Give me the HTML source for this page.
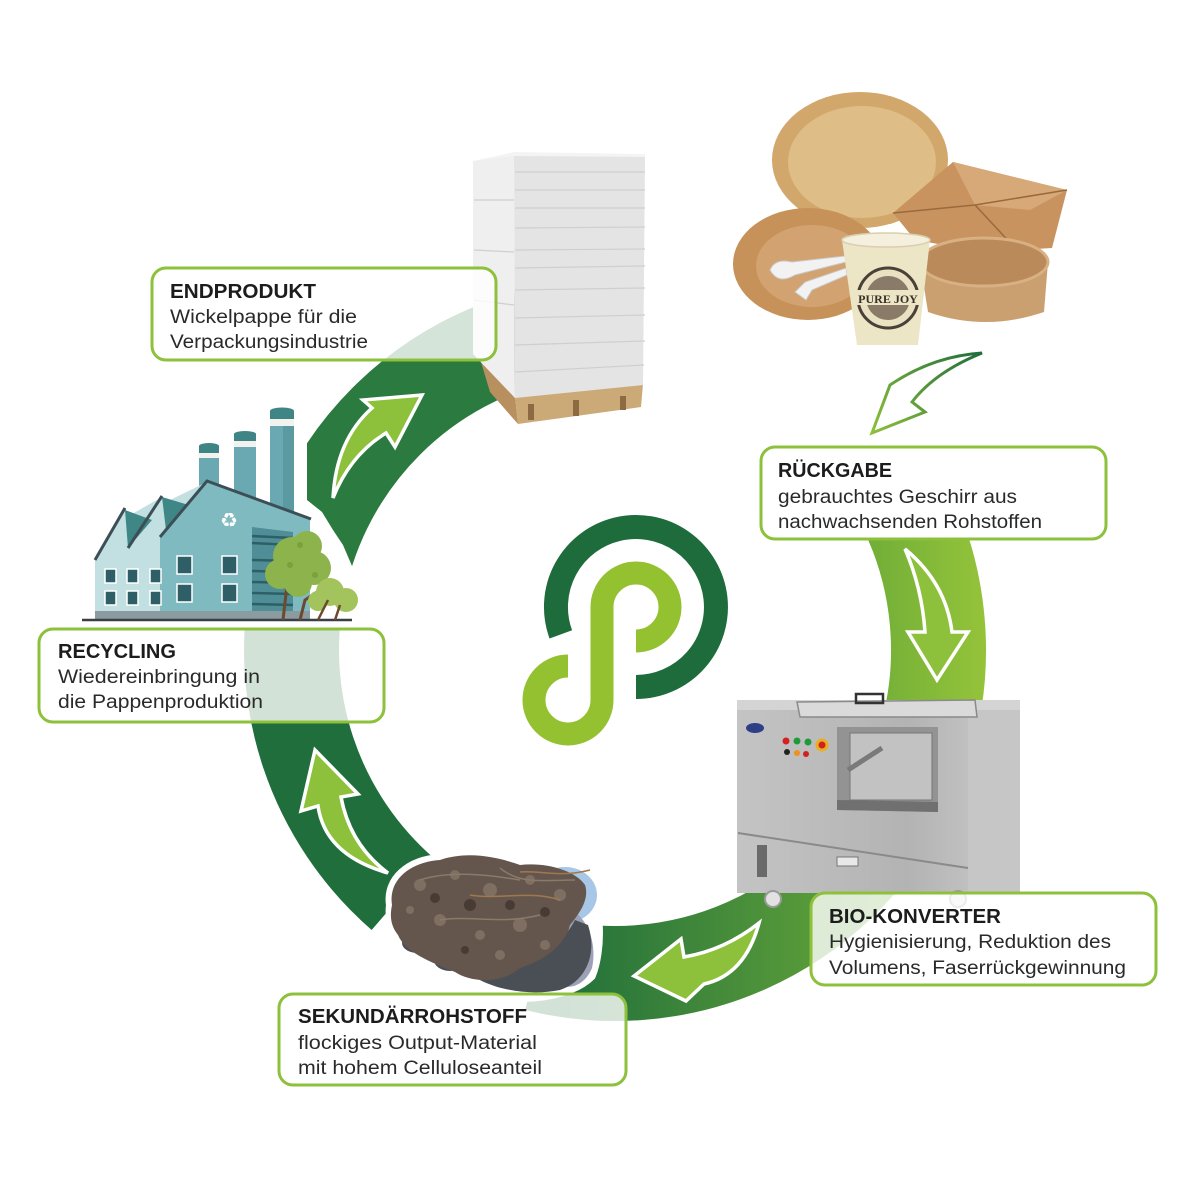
<!DOCTYPE html>
<html><head><meta charset="utf-8">
<style>
html,body{margin:0;padding:0;background:#fff;}
svg{display:block;}
text{font-family:"Liberation Sans",Arial,sans-serif;}
</style></head><body>
<svg width="1200" height="1200" viewBox="0 0 1200 1200" xmlns="http://www.w3.org/2000/svg">
<defs>
<linearGradient id="gR" x1="862" y1="0" x2="990" y2="0" gradientUnits="userSpaceOnUse"><stop offset="0" stop-color="#6fad37"/><stop offset="1" stop-color="#96c43a"/></linearGradient>
<linearGradient id="gB" x1="560" y1="0" x2="900" y2="0" gradientUnits="userSpaceOnUse"><stop offset="0" stop-color="#22703b"/><stop offset="1" stop-color="#6aa83a"/></linearGradient>
<linearGradient id="gA" x1="982" y1="353" x2="872" y2="433" gradientUnits="userSpaceOnUse"><stop offset="0" stop-color="#1f6e3b"/><stop offset="1" stop-color="#8dc03b"/></linearGradient>
<linearGradient id="gM" x1="737" y1="0" x2="1020" y2="0" gradientUnits="userSpaceOnUse"><stop offset="0" stop-color="#c4c4c4"/><stop offset="0.6" stop-color="#b3b3b3"/><stop offset="1" stop-color="#cbcbcb"/></linearGradient>
<clipPath id="cR"><rect x="0" y="540" width="1200" height="660"/></clipPath>
<clipPath id="cL"><rect x="0" y="629" width="1200" height="571"/></clipPath>
<clipPath id="cT"><polygon points="307,200 700,200 700,700 420,700 352,566 343,545 333,530 322,512 307,500"/></clipPath>
</defs>

<!-- RING SEGMENTS -->
<path d="M895.2,488.3 A323.5,323.5 0 0 1 919.0,760.6" fill="none" stroke="url(#gR)" stroke-width="95" clip-path="url(#cR)"/>
<path d="M900.6,801.9 A323.5,323.5 0 0 1 536.7,963.9" fill="none" stroke="url(#gB)" stroke-width="95"/>
<path d="M402.8,894.1 A323.5,323.5 0 0 1 298.6,582.7" fill="none" stroke="#1f6e3b" stroke-width="95" clip-path="url(#cL)"/>
<path d="M298.6,582.7 A323.5,323.5 0 0 1 547.7,333.6" fill="none" stroke="#2b7a3f" stroke-width="95" clip-path="url(#cT)"/>

<!-- ARROWS INSIDE RING -->
<g fill="#8dc03b" stroke="#ffffff" stroke-width="3.5" stroke-linejoin="miter">
<path d="M905,549 Q946,583 952,632 L968,632 L937,680 L908,632 L925,632 Q922,588 905,549 Z"/>
<path d="M634,976 L681,939 L684,957 Q725,950 759,923 Q745,975 704,984 L686,1001 Z"/>
<path d="M315,750 L358,794 L341,797 Q350,845 388,873 Q325,855 318,806 L301,811 Z"/>
<path d="M333,498 Q336,440 372,408 L363,400 L422,395 L395,447 L386,433 Q350,455 333,498 Z"/>
</g>

<!-- PALLET -->
<g>
<polygon points="478,352 515,396 518,424 490,392" fill="#b89060"/>
<polygon points="515,396 643,384 641,407 518,424" fill="#ccaa78"/>
<rect x="528" y="404" width="6" height="16" fill="#8d6a42"/>
<rect x="573" y="400" width="6" height="16" fill="#8d6a42"/>
<rect x="620" y="396" width="6" height="14" fill="#8d6a42"/>
<polygon points="473,161 514,155 515,398 473,354" fill="#efefef"/>
<polygon points="514,155 645,156 643,385 515,398" fill="#e4e4e4"/>
<polygon points="473,161 514,152 645,154 645,157 514,156" fill="#f4f4f4"/>
<g stroke="#cfcfcf" stroke-width="1.2">
<line x1="515" y1="172" x2="645" y2="172"/><line x1="515" y1="190" x2="645" y2="190"/>
<line x1="515" y1="208" x2="645" y2="208"/><line x1="515" y1="228" x2="645" y2="227"/>
<line x1="515" y1="250" x2="645" y2="249"/><line x1="515" y1="268" x2="645" y2="266"/>
<line x1="515" y1="290" x2="645" y2="288"/><line x1="515" y1="318" x2="645" y2="315"/>
<line x1="515" y1="345" x2="645" y2="341"/><line x1="515" y1="372" x2="644" y2="365"/>
<line x1="474" y1="200" x2="514" y2="200"/><line x1="474" y1="250" x2="514" y2="252"/>
<line x1="474" y1="300" x2="514" y2="305"/>
</g>
</g>

<!-- PRODUCTS -->
<g>
<ellipse cx="860" cy="160" rx="88" ry="68" fill="#d2a76b"/>
<ellipse cx="862" cy="162" rx="74" ry="56" fill="#dfbd87"/>
<polygon points="893,213 953,162 1067,190 1052,248 985,252 915,240" fill="#c8935f"/>
<polygon points="953,162 1067,190 1030,210 975,205" fill="#d7a878"/>
<polyline points="893,213 975,205 1067,190" fill="none" stroke="#9b6a3c" stroke-width="1.5"/>
<line x1="975" y1="205" x2="1015" y2="248" stroke="#9b6a3c" stroke-width="1.5"/>
<ellipse cx="808" cy="264" rx="75" ry="56" fill="#c6925a"/>
<ellipse cx="812" cy="266" rx="56" ry="41" fill="#d2a270"/>
<path d="M920,262 L928,312 Q985,332 1044,312 L1048,262 Z" fill="#caa071"/>
<ellipse cx="984" cy="262" rx="64" ry="24" fill="#bb8a5a" stroke="#d8b083" stroke-width="3"/>
<path d="M770,270 Q775,258 792,262 L845,256 L846,262 L795,275 Q778,285 770,270 Z" fill="#f2f2f2" stroke="#c9c9c9" stroke-width="1"/>
<path d="M795,292 L805,282 L846,268 L847,275 L812,290 L806,300 Z" fill="#f2f2f2" stroke="#c9c9c9" stroke-width="1"/>
<polygon points="842,240 930,240 918,345 857,345" fill="#ece5c6"/>
<ellipse cx="886" cy="240" rx="44" ry="7" fill="#f5f0de" stroke="#d8cfae" stroke-width="1.5"/>
<circle cx="888" cy="298" r="30" fill="#e9e1c2" stroke="#4a4038" stroke-width="3"/>
<circle cx="888" cy="298" r="22" fill="#8a7b68"/>
<rect x="856" y="290" width="64" height="15" fill="#ece5c6"/>
<text x="888" y="303" font-size="12" font-weight="bold" fill="#3a3028" text-anchor="middle" style="font-family:'Liberation Serif',serif">PURE JOY</text>
</g>

<!-- FACTORY -->
<g>
<rect x="199" y="452" width="20" height="45" fill="#6aa9b1"/>
<rect x="199" y="446" width="20" height="7" fill="#3f8585"/>
<ellipse cx="209" cy="446" rx="10" ry="3" fill="#3f8585"/>
<rect x="199" y="453" width="20" height="5" fill="#f2f2ee"/>
<rect x="234" y="440" width="22" height="65" fill="#6aa9b1"/>
<rect x="234" y="434" width="22" height="7" fill="#3f8585"/>
<ellipse cx="245" cy="434" rx="11" ry="3" fill="#3f8585"/>
<rect x="234" y="441" width="22" height="6" fill="#f2f2ee"/>
<rect x="270" y="418" width="24" height="100" fill="#6aa9b1"/>
<rect x="270" y="411" width="24" height="8" fill="#3f8585"/>
<ellipse cx="282" cy="411" rx="12" ry="3.5" fill="#3f8585"/>
<rect x="270" y="419" width="24" height="7" fill="#f2f2ee"/>
<rect x="283" y="426" width="11" height="92" fill="#5c9aa2"/>
<polygon points="95,560 125,510 132,514 162,497 170,500 207,482 207,615 95,615" fill="#c2e0e1"/>
<polygon points="125,510 152,520 128,548" fill="#3f8686"/>
<polygon points="162,497 192,506 166,530" fill="#3f8686"/>
<polygon points="207,482 310,518 310,615 160,615 160,537" fill="#7fbac1"/>
<polygon points="252,527 293,532 293,613 252,613" fill="#4f8e96"/>
<g stroke="#2e5f66" stroke-width="2.5">
<line x1="252" y1="536" x2="293" y2="538"/><line x1="252" y1="543" x2="293" y2="545"/>
<line x1="252" y1="560" x2="293" y2="561"/><line x1="252" y1="571" x2="293" y2="572"/>
<line x1="252" y1="582" x2="293" y2="583"/><line x1="252" y1="593" x2="293" y2="594"/>
<line x1="252" y1="604" x2="293" y2="605"/>
</g>
<g fill="none" stroke="#3c4f57" stroke-width="3">
<polyline points="160,537 207,481 311,519"/>
<line x1="95" y1="560" x2="125" y2="508"/>
<line x1="128" y1="548" x2="162" y2="496"/>
</g>
<g fill="#2f5f66" stroke="#ffffff" stroke-width="1.5">
<rect x="177" y="556" width="15" height="18"/><rect x="222" y="556" width="15" height="18"/>
<rect x="177" y="584" width="15" height="18"/><rect x="222" y="584" width="15" height="18"/>
<rect x="105" y="569" width="11" height="14"/><rect x="127" y="569" width="11" height="14"/><rect x="150" y="569" width="11" height="14"/>
<rect x="105" y="591" width="11" height="14"/><rect x="127" y="591" width="11" height="14"/><rect x="150" y="591" width="11" height="14"/>
</g>
<text x="229" y="527" font-size="20" fill="#ffffff" text-anchor="middle" style="font-family:'DejaVu Sans',sans-serif">♻</text>
<rect x="95" y="611" width="215" height="8" fill="#8a9ca0"/>
<line x1="82" y1="620" x2="352" y2="620" stroke="#3a3f44" stroke-width="2.5"/>
<path d="M283,620 L287,585 L280,570 M287,590 L298,572 M300,620 L305,600 L320,590" fill="none" stroke="#6b4a30" stroke-width="3"/>
<g fill="#8db34c">
<circle cx="292" cy="556" r="19"/><circle cx="307" cy="546" r="15"/><circle cx="280" cy="574" r="15"/>
<circle cx="314" cy="568" r="17"/><circle cx="298" cy="583" r="14"/>
</g>
<g fill="#a3c35c">
<circle cx="330" cy="592" r="14"/><circle cx="346" cy="600" r="12"/><circle cx="318" cy="601" r="10"/>
</g>
<g fill="#7aa03f"><circle cx="300" cy="545" r="3"/><circle cx="290" cy="565" r="3"/><circle cx="315" cy="575" r="3"/></g>
<path d="M318,620 L328,600 M335,620 L340,605" stroke="#6b4a30" stroke-width="2.5" fill="none"/>
</g>

<!-- MACHINE -->
<g>
<rect x="737" y="705" width="283" height="188" fill="url(#gM)"/>
<polygon points="968,705 1020,705 1020,893 968,893" fill="#c6c6c6"/>
<rect x="737" y="700" width="283" height="10" fill="#d4d4d4"/>
<polygon points="797,702 975,700 977,717 800,717" fill="#dadada" stroke="#8a8a8a" stroke-width="1.5"/>
<rect x="856" y="694" width="27" height="9" fill="none" stroke="#333" stroke-width="2.5"/>
<polygon points="837,727 938,727 938,812 837,810" fill="#939393"/>
<polygon points="850,733 932,733 932,800 850,800" fill="#c2c2c2" stroke="#777" stroke-width="1"/>
<polygon points="837,800 938,802 938,812 837,810" fill="#707070"/>
<line x1="848" y1="770" x2="882" y2="748" stroke="#7a7a7a" stroke-width="5"/>
<ellipse cx="755" cy="728" rx="9" ry="5" fill="#2f3f86"/>
<circle cx="786" cy="741" r="3.5" fill="#d42020"/><circle cx="797" cy="741" r="3.5" fill="#1f9a3a"/>
<circle cx="808" cy="742" r="3.5" fill="#1f9a3a"/>
<circle cx="822" cy="745" r="6.5" fill="#e8b020"/><circle cx="822" cy="745" r="3.5" fill="#d42020"/>
<circle cx="787" cy="752" r="3" fill="#222"/><circle cx="797" cy="753" r="3" fill="#f09020"/><circle cx="806" cy="754" r="3" fill="#d42020"/>
<line x1="738" y1="833" x2="968" y2="868" stroke="#8a8a8a" stroke-width="2"/>
<rect x="757" y="845" width="10" height="32" fill="#6a6a6a"/>
<rect x="837" y="857" width="21" height="9" fill="#e8e8e8" stroke="#777" stroke-width="1"/>
<circle cx="773" cy="899" r="8" fill="#e2e2e2" stroke="#9a9a9a" stroke-width="2"/>
<circle cx="958" cy="899" r="8" fill="#e2e2e2" stroke="#9a9a9a" stroke-width="2"/>
</g>

<!-- SOIL / GLOVES -->
<g>
<g fill="#ffffff" stroke="#ffffff" stroke-width="12" stroke-linejoin="round">
<ellipse cx="565" cy="895" rx="34" ry="30"/>
<path d="M392,905 C388,880 410,862 440,860 C470,850 500,858 520,865 C545,862 575,870 585,885 C600,905 600,950 590,975 C570,995 520,1002 480,990 C450,985 420,965 405,950 C395,935 390,920 392,905 Z"/>
</g>
<ellipse cx="565" cy="895" rx="32" ry="28" fill="#a8c6e6"/>
<path d="M560,905 C585,910 598,940 592,968 C585,985 570,990 560,985 Z" fill="#9ca1b7"/>
<path d="M405,930 C420,945 440,950 455,958 C470,985 520,998 560,990 C585,982 598,955 588,925 L575,920 C560,950 520,972 470,962 C450,955 420,945 405,930 Z" fill="#4a4f56"/>
<ellipse cx="418" cy="943" rx="16" ry="10" fill="#4a4f56"/>
<ellipse cx="450" cy="960" rx="16" ry="11" fill="#4a4f56"/>
<path d="M392,905 C388,880 410,862 440,860 C470,850 500,858 520,865 C545,862 575,870 585,885 C590,900 578,915 570,925 C565,945 545,960 520,968 C500,985 470,982 455,972 C430,962 405,952 398,935 C390,925 390,915 392,905 Z" fill="#64564c"/>
<g fill="#7f6f62">
<circle cx="420" cy="885" r="6"/><circle cx="455" cy="875" r="5"/><circle cx="490" cy="890" r="7"/>
<circle cx="530" cy="880" r="5"/><circle cx="560" cy="895" r="6"/><circle cx="440" cy="920" r="6"/>
<circle cx="480" cy="935" r="5"/><circle cx="520" cy="925" r="7"/><circle cx="545" cy="945" r="5"/>
<circle cx="410" cy="910" r="4"/><circle cx="500" cy="955" r="5"/>
</g>
<g fill="#473b33">
<circle cx="435" cy="898" r="5"/><circle cx="470" cy="905" r="6"/><circle cx="510" cy="905" r="5"/>
<circle cx="545" cy="912" r="5"/><circle cx="465" cy="950" r="4"/>
</g>
<path d="M420,880 C450,870 490,875 520,880 M440,920 C470,915 500,925 540,915 M500,868 C520,885 545,880 575,880" fill="none" stroke="#8a7a6a" stroke-width="1.5"/>
<path d="M470,895 C500,900 530,890 560,900 M520,872 C540,870 560,878 590,870" fill="none" stroke="#a07850" stroke-width="1.5"/>
</g>

<!-- LABEL BOXES -->
<g fill="#ffffff" fill-opacity="0.8" stroke="#8dc03b" stroke-width="3">
<rect x="152" y="268" width="344" height="92" rx="14"/>
<rect x="761" y="447" width="345" height="92" rx="14"/>
<rect x="39" y="629" width="345" height="93" rx="14"/>
<rect x="811" y="893" width="345" height="92" rx="14"/>
<rect x="279" y="994" width="347" height="91" rx="14"/>
</g>

<!-- TEXT -->
<g fill="#1c1c1c" font-weight="bold" font-size="20">
<text x="170" y="298" textLength="146" lengthAdjust="spacingAndGlyphs">ENDPRODUKT</text>
<text x="778" y="477" textLength="114" lengthAdjust="spacingAndGlyphs">RÜCKGABE</text>
<text x="58" y="658" textLength="118" lengthAdjust="spacingAndGlyphs">RECYCLING</text>
<text x="829" y="923" textLength="172" lengthAdjust="spacingAndGlyphs">BIO-KONVERTER</text>
<text x="298" y="1023" textLength="229" lengthAdjust="spacingAndGlyphs">SEKUNDÄRROHSTOFF</text>
</g>
<g fill="#2a2a2a" font-size="19">
<text x="170" y="323" textLength="187" lengthAdjust="spacingAndGlyphs">Wickelpappe für die</text>
<text x="170" y="348" textLength="198" lengthAdjust="spacingAndGlyphs">Verpackungsindustrie</text>
<text x="778" y="503" textLength="239" lengthAdjust="spacingAndGlyphs">gebrauchtes Geschirr aus</text>
<text x="778" y="528" textLength="264" lengthAdjust="spacingAndGlyphs">nachwachsenden Rohstoffen</text>
<text x="58" y="683" textLength="202" lengthAdjust="spacingAndGlyphs">Wiedereinbringung in</text>
<text x="58" y="708" textLength="205" lengthAdjust="spacingAndGlyphs">die Pappenproduktion</text>
<text x="829" y="948" textLength="282" lengthAdjust="spacingAndGlyphs">Hygienisierung, Reduktion des</text>
<text x="829" y="974" textLength="297" lengthAdjust="spacingAndGlyphs">Volumens, Faserrückgewinnung</text>
<text x="298" y="1049" textLength="239" lengthAdjust="spacingAndGlyphs">flockiges Output-Material</text>
<text x="298" y="1074" textLength="244" lengthAdjust="spacingAndGlyphs">mit hohem Celluloseanteil</text>
</g>

<!-- CENTER LOGO -->
<path d="M560.8,634.4 A80,80 0 1 1 636,687" fill="none" stroke="#1e6b3c" stroke-width="24"/>
<path d="M568,666 A34,34 0 1 0 602,700 L602,607 A34,34 0 1 1 636,641" fill="none" stroke="#93c12f" stroke-width="23"/>

<!-- TOP-RIGHT OUTLINE ARROW -->
<path d="M982,353 Q933,356 890,385 L872,433 L925,412 L912,402 Q935,372 982,353 Z" fill="#ffffff" stroke="url(#gA)" stroke-width="3" stroke-linejoin="miter"/>
</svg>
</body></html>
